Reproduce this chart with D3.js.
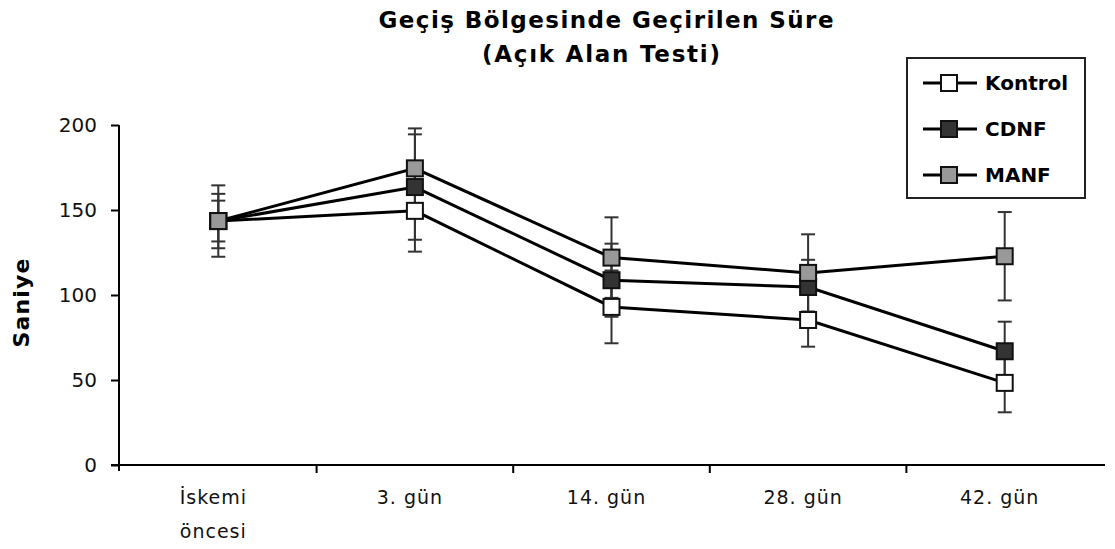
<!DOCTYPE html>
<html><head><meta charset="utf-8">
<script src="https://cdn.jsdelivr.net/npm/d3@7"></script>
<style>body{margin:0;background:#fff}svg{display:block}text{font-family:"DejaVu Sans",sans-serif}</style>
</head><body><svg id="c" width="1115" height="549"></svg>
<script>
const categories = [["İskemi","öncesi"],["3. gün"],["14. gün"],["28. gün"],["42. gün"]];
const seriesNames = ["Kontrol","CDNF","MANF"];
const kontrol = [143.5, 149.5, 93, 85.3, 48.3];
const kontrolErr = [12, 24, 21.4, 15.7, 17.3];
const cdnf = [143.5, 163.5, 108.7, 104.7, 66.9];
const cdnfErr = [16, 31, 21.5, 16, 17.4];
const manf = [143.5, 174.5, 122, 113, 122.8];
const manfErr = [21, 23.5, 23.7, 22.7, 26];
const yTicks = [0, 50, 100, 150, 200];
const fills = ["#ffffff", "#333333", "#999999"];

const svg = d3.select("#c");
const keys = categories.map((c,i)=>i);
const x = d3.scaleBand().domain(keys).range([120, 1103]);
const y = d3.scaleLinear().domain([0, 200]).range([465, 125]);

// title
svg.append("text").attr("x", 606).attr("y", 28).attr("text-anchor","middle")
  .attr("font-size", 23).attr("font-weight","bold")
  .attr("textLength", 455).attr("lengthAdjust","spacing").text("Geçiş Bölgesinde Geçirilen Süre");
svg.append("text").attr("x", 601).attr("y", 62).attr("text-anchor","middle")
  .attr("font-size", 23).attr("font-weight","bold")
  .attr("textLength", 238).attr("lengthAdjust","spacing").text("(Açık Alan Testi)");

// y axis
const ya = svg.append("g").attr("transform","translate(119,0)")
  .call(d3.axisLeft(y).tickValues(yTicks).tickSize(8).tickSizeOuter(0).tickPadding(14));
ya.select(".domain").attr("stroke","#000").attr("stroke-width",2).attr("d","M0,125V471");
ya.selectAll(".tick line").attr("stroke","#000").attr("stroke-width",2);
ya.selectAll(".tick text").attr("font-size",20).attr("fill","#111").attr("font-family","DejaVu Sans, sans-serif");

svg.append("text").attr("transform","translate(29,303) rotate(-90)").attr("text-anchor","middle")
  .attr("font-size",22).attr("font-weight","bold")
  .attr("textLength", 89).attr("lengthAdjust","spacing").text("Saniye");

// x axis
const xa = svg.append("g").attr("transform","translate(0,465)")
  .call(d3.axisBottom(x).tickSize(0).tickFormat(""));
xa.select(".domain").attr("stroke","#000").attr("stroke-width",2).attr("d","M111,0H1105");
const bounds = keys.map(k => x(k) + x.bandwidth());
xa.selectAll(".bt").data(bounds.slice(0,4)).enter().append("line").attr("class","bt")
  .attr("x1",d=>d).attr("x2",d=>d).attr("y1",0).attr("y2",8).attr("stroke","#000").attr("stroke-width",2);
xa.selectAll(".tick").each(function(k){
  const t = d3.select(this).append("text").attr("font-size",19).attr("fill","#111")
    .attr("letter-spacing", 1)
    .attr("text-anchor","middle").attr("font-family","DejaVu Sans, sans-serif");
  categories[k].forEach((s,j)=>t.append("tspan").attr("x",-5).attr("y",39 + j*34).text(s));
});

const cx = k => x(k) + x.bandwidth()/2;
const data = [[kontrol,kontrolErr],[cdnf,cdnfErr],[manf,manfErr]];

// error bars
data.forEach(([v,e]) => {
  const g = svg.append("g").attr("stroke","#333").attr("stroke-width",2);
  keys.forEach(k => {
    const X = cx(k), t = y(v[k]+e[k]), b = y(v[k]-e[k]);
    g.append("line").attr("x1",X).attr("x2",X).attr("y1",t).attr("y2",b);
    g.append("line").attr("x1",X-7).attr("x2",X+7).attr("y1",t).attr("y2",t);
    g.append("line").attr("x1",X-7).attr("x2",X+7).attr("y1",b).attr("y2",b);
  });
});
// lines
const line = d3.line().x((d,i)=>cx(i)).y(d=>y(d));
data.forEach(([v]) => {
  svg.append("path").attr("d", line(v)).attr("fill","none").attr("stroke","#000").attr("stroke-width",3);
});
// markers
data.forEach(([v], si) => {
  svg.append("g").selectAll("rect").data(v).enter().append("rect")
    .attr("x",(d,i)=>cx(i)-8).attr("y",d=>y(d)-8).attr("width",16).attr("height",16)
    .attr("fill",fills[si]).attr("stroke","#111").attr("stroke-width",2);
});

// legend
const lg = svg.append("g");
lg.append("rect").attr("x",907).attr("y",58).attr("width",178).attr("height",140)
  .attr("fill","#fff").attr("stroke","#222").attr("stroke-width",2);
seriesNames.forEach((n,i)=>{
  const ly = 83 + i*46;
  lg.append("line").attr("x1",923).attr("x2",977).attr("y1",ly).attr("y2",ly).attr("stroke","#000").attr("stroke-width",3);
  lg.append("rect").attr("x",941).attr("y",ly-8).attr("width",16).attr("height",16)
    .attr("fill",fills[i]).attr("stroke","#111").attr("stroke-width",2);
  lg.append("text").attr("x",985).attr("y",ly+7).attr("font-size",20).attr("font-weight","bold").text(n);
});
</script></body></html>
